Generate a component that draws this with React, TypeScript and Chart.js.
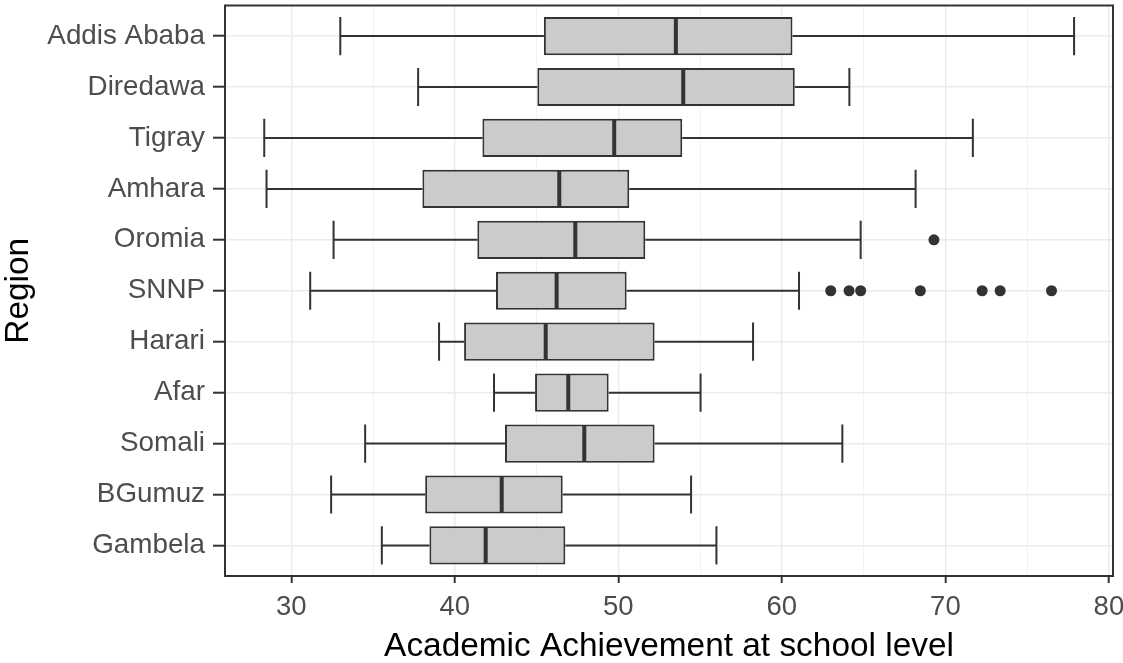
import React, { useEffect, useRef } from 'react';
import { Chart, registerables } from 'chart.js';

Chart.register(...registerables);

const regions = ['Addis Ababa', 'Diredawa', 'Tigray', 'Amhara', 'Oromia', 'SNNP', 'Harari', 'Afar', 'Somali', 'BGumuz', 'Gambela'];
const whiskerLow = [33.0, 37.76, 28.35, 28.49, 32.59, 31.16, 39.04, 42.4, 34.52, 32.44, 35.54];
const q1 = [45.45, 45.05, 41.69, 38.02, 41.38, 42.52, 40.57, 44.91, 43.07, 38.19, 38.45];
const median = [53.52, 53.97, 49.75, 46.39, 47.37, 46.23, 45.56, 46.94, 47.92, 42.87, 41.89];
const q3 = [60.65, 60.79, 53.91, 50.67, 51.65, 50.51, 52.22, 49.41, 52.22, 46.6, 46.76];
const whiskerHigh = [77.87, 64.13, 71.68, 68.18, 64.82, 61.05, 58.24, 55.03, 63.7, 54.45, 56.0];
const outlierRegion = ['Oromia', 'SNNP', 'SNNP', 'SNNP', 'SNNP', 'SNNP', 'SNNP', 'SNNP'];
const outlierValue = [69.3, 62.99, 64.11, 64.82, 68.47, 72.25, 73.35, 76.49];
const xTicks = [30, 40, 50, 60, 70, 80];
const xMinorTicks = [35, 45, 55, 65, 75];

const X_MIN = 25.95;
const X_MAX = 80.25;
const FONT = "'Liberation Sans', Arial, sans-serif";
const LINE = '#333333';

const boxPlugin = {
  id: 'boxWhiskers',
  afterDatasetsDraw(chart: any) {
    const xs = chart.scales.x;
    const ys = chart.scales.y;
    const meta = chart.getDatasetMeta(0);
    const ctx = chart.ctx;
    ctx.save();
    ctx.strokeStyle = LINE;
    ctx.lineCap = 'butt';
    regions.forEach((_, i) => {
      const bar = meta.data[i];
      const yc = ys.getPixelForValue(i);
      const half = bar.height / 2;
      const xl = xs.getPixelForValue(whiskerLow[i]);
      const x1 = xs.getPixelForValue(q1[i]);
      const x3 = xs.getPixelForValue(q3[i]);
      const xh = xs.getPixelForValue(whiskerHigh[i]);
      const xm = xs.getPixelForValue(median[i]);
      ctx.lineWidth = 2;
      ctx.beginPath();
      ctx.moveTo(xl, yc);
      ctx.lineTo(x1, yc);
      ctx.moveTo(x3, yc);
      ctx.lineTo(xh, yc);
      ctx.moveTo(xl, yc - half);
      ctx.lineTo(xl, yc + half);
      ctx.moveTo(xh, yc - half);
      ctx.lineTo(xh, yc + half);
      ctx.stroke();
      ctx.lineWidth = 4;
      ctx.beginPath();
      ctx.moveTo(xm, yc - half + 1);
      ctx.lineTo(xm, yc + half - 1);
      ctx.stroke();
    });
    ctx.restore();
  },
  afterDraw(chart: any) {
    const { left, top, right, bottom } = chart.chartArea;
    const ctx = chart.ctx;
    ctx.save();
    ctx.strokeStyle = LINE;
    ctx.lineWidth = 2;
    ctx.strokeRect(left, top, right - left, bottom - top);
    ctx.restore();
  },
};

export default function App() {
  const ref = useRef<HTMLCanvasElement>(null);

  useEffect(() => {
    document.body.style.margin = '0';
    const canvas = ref.current;
    if (!canvas) return;
    const chart = new Chart(canvas, {
      type: 'bar',
      data: {
        datasets: [
          {
            type: 'bar',
            data: regions.map((_, i) => ({ y: i, x: [q1[i], q3[i]] })) as any,
            backgroundColor: '#CBCBCB',
            borderColor: LINE,
            borderWidth: 2,
            borderSkipped: false,
            barPercentage: 0.75,
            categoryPercentage: 1,
          } as any,
          {
            type: 'scatter',
            data: outlierValue.map((v, i) => ({ x: v, y: regions.indexOf(outlierRegion[i]) })),
            backgroundColor: LINE,
            borderWidth: 0,
            pointRadius: 5.5,
            pointHoverRadius: 5.5,
          } as any,
        ],
      },
      options: {
        indexAxis: 'y',
        animation: false,
        responsive: false,
        devicePixelRatio: 1,
        layout: { padding: { top: 4, right: 10, left: 0, bottom: 0 } },
        plugins: { legend: { display: false }, tooltip: { enabled: false } },
        scales: {
          x: {
            type: 'linear',
            min: X_MIN,
            max: X_MAX,
            offset: false,
            afterBuildTicks: (s: any) => {
              s.ticks = [...xMinorTicks, ...xTicks]
                .filter((v) => v >= X_MIN && v <= X_MAX)
                .sort((a, b) => a - b)
                .map((v) => ({ value: v }));
            },
            afterFit: (s: any) => {
              s.height = 87;
              s.paddingLeft = 0;
              s.paddingRight = 0;
            },
            ticks: {
              autoSkip: false,
              maxRotation: 0,
              padding: 8,
              color: '#4D4D4D',
              font: { family: FONT, size: 27.5 },
              callback: (v: any) => (xTicks.includes(v) ? String(v) : ''),
            },
            grid: {
              offset: false,
              color: (c: any) => (xTicks.includes(c.tick?.value) ? '#EBEBEB' : '#F2F2F2'),
              lineWidth: (c: any) => (xTicks.includes(c.tick?.value) ? 1.4 : 1),
              tickColor: (c: any) => (xTicks.includes(c.tick?.value) ? LINE : 'rgba(0,0,0,0)'),
              tickLength: 7,
              tickWidth: 2,
            },
            border: { display: false },
            title: {
              display: true,
              text: 'Academic Achievement at school level',
              color: '#000000',
              font: { family: FONT, size: 33.4, lineHeight: 1.0 },
              padding: { top: 0, bottom: 0 },
            },
          },
          y: {
            type: 'linear',
            min: -0.6,
            max: 10.6,
            reverse: true,
            offset: false,
            afterBuildTicks: (s: any) => {
              s.ticks = regions.map((_, i) => ({ value: i }));
            },
            afterFit: (s: any) => {
              s.width = 225;
              s.paddingTop = 0;
              s.paddingBottom = 0;
            },
            ticks: {
              autoSkip: false,
              padding: 8,
              color: '#4D4D4D',
              font: { family: FONT, size: 27.8 },
              callback: (v: any) => regions[v],
            },
            grid: {
              offset: false,
              color: '#EBEBEB',
              lineWidth: 1.4,
              tickColor: LINE,
              tickLength: 12,
              tickWidth: 2,
            },
            border: { display: false },
            title: {
              display: true,
              text: 'Region',
              color: '#000000',
              font: { family: FONT, size: 33.4, lineHeight: 1.1 },
              padding: { top: 0, bottom: 0 },
            },
          },
        },
      } as any,
      plugins: [boxPlugin],
    });
    return () => chart.destroy();
  }, []);

  return (
    <div style={{ position: 'absolute', left: 0, top: 0, width: 1123, height: 663 }}>
      <canvas ref={ref} width={1123} height={663} />
    </div>
  );
}
